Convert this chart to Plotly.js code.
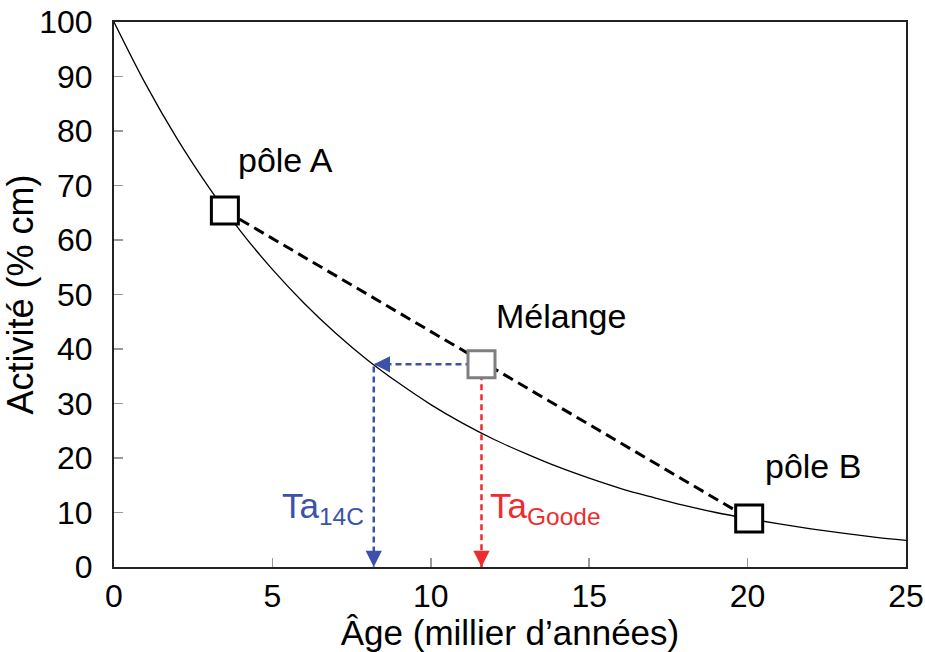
<!DOCTYPE html>
<html>
<head>
<meta charset="utf-8">
<script src="https://cdn.plot.ly/plotly-3.0.1.min.js"></script>
<style>html,body{margin:0;padding:0;background:#fff;}#chart{width:925px;height:652px;}</style>
</head>
<body>
<div id="chart"></div>
<script>
// Decay curve
const ages = [0,1,2,3,4,5,6,7,8,9,10,11,12,13,14,15,16,17,18,19,20,21,22,23,24,25];
const activity = [100,88.6,78.5,69.6,61.6,54.6,48.4,42.9,38.0,33.7,29.8,26.4,23.4,20.8,18.4,16.3,14.4,12.8,11.3,10.0,8.9,7.9,7.0,6.2,5.5,4.9];
// Points: pôle A, Mélange, pôle B
const pointNames = ['pôle A', 'Mélange', 'pôle B'];
const pointAge = [3.5, 11.6, 20.05];
const pointActivity = [65.4, 37.2, 8.9];
// Apparent ages
const ta14C = 8.2;
const taGoode = 11.6;
const xTicks = [0,5,10,15,20,25];
const yTicks = [0,10,20,30,40,50,60,70,80,90,100];

const FONT = 'Liberation Sans, Arial, Helvetica, sans-serif';
const BLUE = '#3b52a8';
const RED = '#ee2b2e';
const GRAY = '#7f7f7f';

const mixY = pointActivity[1];

const traces = [
  {x: ages, y: activity, mode: 'lines', line: {color: '#000', width: 1.3, shape: 'spline'}, hoverinfo: 'skip'},
  {x: [pointAge[0], pointAge[2]], y: [pointActivity[0], pointActivity[2]], mode: 'lines',
   line: {color: '#000', width: 3, dash: '11px,6px'}, hoverinfo: 'skip'},
  {x: [pointAge[1], ta14C, ta14C], y: [mixY, mixY, 0], mode: 'lines',
   line: {color: BLUE, width: 2.5, dash: '6px,4px'}, hoverinfo: 'skip'},
  {x: [taGoode, taGoode], y: [mixY, 0], mode: 'lines',
   line: {color: RED, width: 2.5, dash: '6px,4px'}, hoverinfo: 'skip'},
  {x: pointAge, y: pointActivity, mode: 'markers',
   marker: {symbol: 'square', size: 27, color: '#fff', line: {color: ['#000', GRAY, '#000'], width: 3}}, hoverinfo: 'skip'}
];

const annotations = [
  {x: 3.85, y: 74.7, text: pointNames[0], xanchor: 'left', yanchor: 'middle', showarrow: false, font: {family: FONT, size: 34, color: '#000'}},
  {x: 12.0, y: 46.1, text: pointNames[1], xanchor: 'left', yanchor: 'middle', showarrow: false, font: {family: FONT, size: 34, color: '#000'}},
  {x: 20.5, y: 18.5, text: pointNames[2], xanchor: 'left', yanchor: 'middle', showarrow: false, font: {family: FONT, size: 34, color: '#000'}},
  {x: 7.95, y: 10.8, text: 'Ta<sub>14C</sub>', xanchor: 'right', yanchor: 'middle', showarrow: false, font: {family: FONT, size: 35, color: BLUE}},
  {x: 11.8, y: 10.8, text: 'Ta<sub>Goode</sub>', xanchor: 'left', yanchor: 'middle', showarrow: false, font: {family: FONT, size: 35, color: RED}},
  // arrowheads
  {x: ta14C, y: mixY, ax: 12, ay: 0, text: '', showarrow: true, arrowhead: 2, arrowsize: 1.3, arrowwidth: 2.5, arrowcolor: BLUE},
  {x: ta14C, y: 0, ax: 0, ay: -12, text: '', showarrow: true, arrowhead: 2, arrowsize: 1.3, arrowwidth: 2.5, arrowcolor: BLUE},
  {x: taGoode, y: 0, ax: 0, ay: -12, text: '', showarrow: true, arrowhead: 2, arrowsize: 1.3, arrowwidth: 2.5, arrowcolor: RED}
];

const axisCommon = {
  showline: true, mirror: true, linecolor: '#222', linewidth: 2,
  ticks: 'inside', ticklen: 9, tickwidth: 1.5, tickcolor: '#999',
  showgrid: false, zeroline: false,
  tickfont: {family: FONT, size: 32, color: '#000'}
};

const layout = {
  width: 925, height: 652,
  margin: {l: 114, r: 19, t: 22, b: 85},
  paper_bgcolor: '#fff', plot_bgcolor: '#fff',
  showlegend: false,
  font: {family: FONT, color: '#000'},
  xaxis: Object.assign({}, axisCommon, {
    range: [0, 25], tickvals: xTicks, ticktext: xTicks.map(String),
    ticklabelstandoff: 0,
    title: {text: 'Âge (millier d’années)', font: {family: FONT, size: 35, color: '#000'}, standoff: 2}
  }),
  yaxis: Object.assign({}, axisCommon, {
    range: [0, 100], tickvals: yTicks, ticktext: yTicks.map(String),
    ticklabelstandoff: 13,
    title: {text: 'Activité (% cm)', font: {family: FONT, size: 36, color: '#000'}, standoff: 2}
  }),
  annotations: annotations
};

Plotly.newPlot('chart', traces, layout, {displayModeBar: false, staticPlot: true});
</script>
</body>
</html>
